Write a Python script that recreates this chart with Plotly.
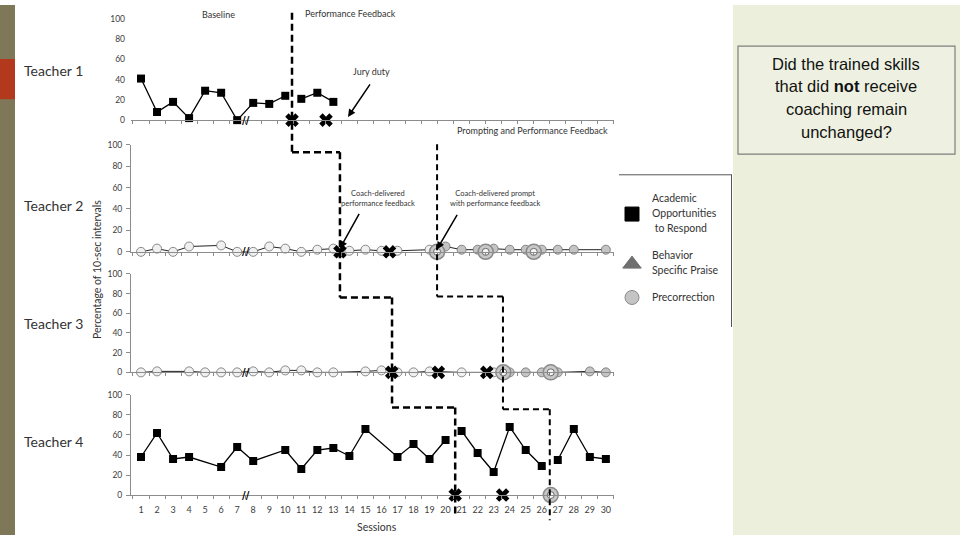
import plotly.graph_objects as go

W, H = 960, 540

# ---------------- data ----------------
session_ticks = list(range(1, 31))
session_labels = [str(s) for s in session_ticks]
y_ticks = [0, 20, 40, 60, 80, 100]
y_labels = [str(v) for v in y_ticks]

teacher_names = ["Teacher 1", "Teacher 2", "Teacher 3", "Teacher 4"]

# Teacher 1 - academic opportunities to respond
t1_sessions = [1, 2, 3, 4, 5, 6, 7, 8, 9, 10, 11, 12, 13]
t1_otr = [41, 8, 18, 2, 29, 27, 0, 17, 16, 24, 21, 27, 18]
t1_coach = [10.42, 12.54]

# Teacher 2 - precorrection
t2_sessions = [1, 2, 3, 4, 6, 7, 8, 9, 10, 11, 12, 13, 14, 15, 16, 17, 19,
               20, 21, 22, 23, 24, 25, 26, 27, 28, 30]
t2_precorr = [0, 3, 0, 5, 6, 0, 0, 5, 3, 0, 2, 3, 1, 2, 1, 1, 2,
              5, 2, 2, 3, 2, 2, 2, 2, 2, 2]
t2_coach = [13.41, 16.5]
t2_prompt = [19.47, 22.5, 25.5]

# Teacher 3 - precorrection
t3_sessions = [1, 2, 4, 5, 6, 7, 8, 9, 10, 11, 12, 13, 15, 16, 17, 18, 19,
               21, 23, 24, 25, 26, 27, 29, 30]
t3_precorr = [0, 1, 1, 0, 0, 0, 1, 0, 2, 2, 0, 0, 1, 2, 0, 0, 1,
              0, 0, 0, 0, 0, 0, 1, 0]
t3_coach = [16.64, 19.55, 22.57]
t3_prompt = [23.6, 26.56]

# Teacher 4 - academic opportunities to respond
t4_sessions = [1, 2, 3, 4, 6, 7, 8, 10, 11, 12, 13, 14, 15, 17, 18, 19, 20,
               21, 22, 23, 24, 25, 26, 27, 28, 29, 30]
t4_otr = [38, 62, 36, 38, 28, 48, 34, 45, 26, 45, 47, 39, 66, 38, 51, 36, 55,
          64, 42, 23, 68, 45, 29, 35, 66, 38, 36]
t4_coach = [20.6, 23.56]
t4_prompt = [26.56]

# phase change lines (session positions)
phase_a = [10.42, 13.41, 16.66, 20.6]
phase_b = [19.47, 23.58, 26.5]

legend_labels = [["Academic", "Opportunities", " to Respond"],
                 ["Behavior", "Specific Praise"],
                 ["Precorrection"]]

# ---------------- helpers ----------------
def px(p):
    return p / W

def py(p):
    return 1 - p / H

X_RANGE = [0.376, 30.507]
X_DOM = [px(131), px(614)]
PANEL_PX = [(117.3, 14.0), (251.5, 142.3), (374.3, 274.0), (499.3, 397.3)]
AX = ["", "2", "3", "4"]
FONT = "Lato"
AXC = "#8c8c8c"


def seg(xs, ys, breaks):
    ox, oy = [], []
    for i, (x, y) in enumerate(zip(xs, ys)):
        if i > 0 and any(xs[i - 1] < b < x for b in breaks):
            ox.append(None)
            oy.append(None)
        ox.append(x)
        oy.append(y)
    return ox, oy


fig = go.Figure()


def square_series(k, sess, vals, breaks):
    x, y = seg(sess, vals, breaks)
    fig.add_trace(go.Scatter(
        x=x, y=y, xaxis="x" + AX[k], yaxis="y" + AX[k], mode="lines+markers",
        line=dict(color="black", width=1.3),
        marker=dict(symbol="square", size=8, color="black"),
        cliponaxis=False, hoverinfo="skip", showlegend=False))


def circle_series(k, sess, vals, breaks, change):
    x, y = seg(sess, vals, breaks)
    cols = ["#f0f0f0" if (v is None or v < change) else "#c4c4c4" for v in x]
    fig.add_trace(go.Scatter(
        x=x, y=y, xaxis="x" + AX[k], yaxis="y" + AX[k], mode="lines+markers",
        line=dict(color="#222222", width=1),
        marker=dict(symbol="circle", size=9, color=cols,
                    line=dict(color="#6e6e6e", width=0.8)),
        cliponaxis=False, hoverinfo="skip", showlegend=False))


def coach_marks(k, xs):
    fig.add_trace(go.Scatter(
        x=xs, y=[0] * len(xs), xaxis="x" + AX[k], yaxis="y" + AX[k],
        mode="markers", marker=dict(symbol="x", size=12, color="black",
                                     line=dict(width=0)),
        cliponaxis=False, hoverinfo="skip", showlegend=False))


def prompt_marks(k, xs):
    fig.add_trace(go.Scatter(
        x=xs, y=[0] * len(xs), xaxis="x" + AX[k], yaxis="y" + AX[k],
        mode="markers", marker=dict(symbol="circle", size=15, color="#c8c8c8",
                                     line=dict(color="#8a8a8a", width=1.5)),
        cliponaxis=False, hoverinfo="skip", showlegend=False))
    fig.add_trace(go.Scatter(
        x=xs, y=[0] * len(xs), xaxis="x" + AX[k], yaxis="y" + AX[k],
        mode="markers", marker=dict(symbol="circle", size=7, color="#f6f6f6",
                                     line=dict(color="#6a6a6a", width=1)),
        cliponaxis=False, hoverinfo="skip", showlegend=False))


square_series(0, t1_sessions, t1_otr, [phase_a[0]])
coach_marks(0, t1_coach)

circle_series(1, t2_sessions, t2_precorr, [phase_a[1], phase_b[0]], phase_b[0])
coach_marks(1, t2_coach)
prompt_marks(1, t2_prompt)

circle_series(2, t3_sessions, t3_precorr, [phase_a[2], phase_b[1]], phase_b[1])
coach_marks(2, t3_coach)
prompt_marks(2, t3_prompt)

square_series(3, t4_sessions, t4_otr, [phase_a[3], phase_b[2]])
coach_marks(3, t4_coach)
prompt_marks(3, t4_prompt)

# hidden trace for session-label axis
fig.add_trace(go.Scatter(x=[None], y=[None], xaxis="x5", yaxis="y4",
                         showlegend=False, hoverinfo="skip"))

# legend symbols on a pixel overlay axis
leg_sym = [("square", 14, "black", "black", 213),
           ("triangle-up", 16, "#707070", "#707070", 264),
           ("circle", 14, "#c4c4c4", "#8a8a8a", 298)]
for sym, sz, col, lc, yy in leg_sym:
    fig.add_trace(go.Scatter(
        x=[632], y=[yy], xaxis="x6", yaxis="y6", mode="markers",
        marker=dict(symbol=sym, size=sz, color=col, line=dict(color=lc, width=1)),
        showlegend=False, hoverinfo="skip", cliponaxis=False))

# ---------------- axes ----------------
layout = dict(
    width=W, height=H, margin=dict(l=0, r=0, t=0, b=0), autosize=False,
    paper_bgcolor="white", plot_bgcolor="rgba(0,0,0,0)", showlegend=False,
)
for k in range(4):
    y0, y1 = PANEL_PX[k]
    layout["xaxis" + AX[k]] = dict(
        domain=X_DOM, range=X_RANGE, anchor="y" + AX[k],
        showline=True, linecolor=AXC, linewidth=1,
        tickmode="linear", tick0=0.5, dtick=1, ticks="outside", ticklen=3,
        tickcolor=AXC, showticklabels=False, showgrid=False, zeroline=False,
        fixedrange=True)
    layout["yaxis" + AX[k]] = dict(
        domain=[py(y0), py(y1)], range=[0, 100], anchor="x" + AX[k],
        showline=(k > 0), linecolor=AXC, linewidth=1,
        tickmode="array", tickvals=y_ticks, ticktext=y_labels,
        ticks="outside" if k > 0 else "", ticklen=4, tickcolor=AXC,
        ticklabelstandoff=2 if k > 0 else 5,
        tickfont=dict(family=FONT, size=8.5, color="#404040"),
        showgrid=False, zeroline=False, fixedrange=True)

layout["xaxis5"] = dict(
    domain=X_DOM, range=X_RANGE, anchor="y4", overlaying="x4", side="bottom",
    tickmode="array", tickvals=session_ticks, ticktext=session_labels,
    ticks="", showline=False, showgrid=False, zeroline=False,
    ticklabelstandoff=8,
    tickfont=dict(family=FONT, size=9, color="#404040"), fixedrange=True)

layout["xaxis6"] = dict(domain=[0, 1], range=[0, W], anchor="y6", visible=False,
                        fixedrange=True)
layout["yaxis6"] = dict(domain=[0, 1], range=[H, 0], anchor="x6", visible=False,
                        fixedrange=True)

fig.update_layout(**layout)

# ---------------- shapes ----------------
shapes = []
shapes.append(dict(type="rect", xref="paper", yref="paper", x0=px(0), x1=px(15),
                   y0=0, y1=1, fillcolor="#7f7858", line=dict(width=0), layer="below"))
shapes.append(dict(type="rect", xref="paper", yref="paper", x0=px(0), x1=px(15),
                   y0=py(96), y1=py(55), fillcolor="#b3391d", line=dict(width=0),
                   layer="below"))
shapes.append(dict(type="rect", xref="paper", yref="paper", x0=px(733), x1=1,
                   y0=0, y1=1, fillcolor="#ebefdc", line=dict(width=0), layer="below"))
shapes.append(dict(type="rect", xref="paper", yref="paper", x0=px(738), x1=px(955),
                   y0=py(152), y1=py(42), fillcolor="rgba(255,255,255,0.15)",
                   line=dict(color="#7f7f7f", width=1.2), layer="below"))
shapes.append(dict(type="line", xref="paper", yref="paper", x0=px(619), x1=px(732),
                   y0=py(173), y1=py(173), line=dict(color="#555555", width=1)))
shapes.append(dict(type="line", xref="paper", yref="paper", x0=px(731.5), x1=px(731.5),
                   y0=py(173), y1=py(328), line=dict(color="#555555", width=1)))


def dashed_path(xs, ys_px, width, dash):
    out = []
    for i, x in enumerate(xs):
        out.append(dict(type="line", xref="x", yref="paper", x0=x, x1=x,
                        y0=py(ys_px[i]), y1=py(ys_px[i + 1]),
                        line=dict(color="black", width=width, dash=dash)))
        if i + 1 < len(xs):
            out.append(dict(type="line", xref="x", yref="paper", x0=x, x1=xs[i + 1],
                            y0=py(ys_px[i + 1]), y1=py(ys_px[i + 1]),
                            line=dict(color="black", width=width, dash=dash)))
    return out

shapes += dashed_path(phase_a, [8, 150, 298, 410, 518], 2.5, "7px,4px")
shapes += dashed_path(phase_b, [142, 297, 412, 525], 2, "6px,4px")
fig.update_layout(shapes=shapes)

# ---------------- annotations ----------------
ann = []

def txt(text, x, y, size, xanchor="center", color="#333333", family=FONT, **kw):
    ann.append(dict(text=text, x=px(x), y=py(y), xref="paper", yref="paper",
                    showarrow=False, xanchor=xanchor, yanchor="middle",
                    font=dict(family=family, size=size, color=color), **kw))

def arrow(hx, hy, tx, ty):
    ann.append(dict(text="", x=px(hx), y=py(hy), xref="paper", yref="paper",
                    ax=tx - hx, ay=ty - hy, showarrow=True, arrowhead=2,
                    arrowsize=1, arrowwidth=1.5, arrowcolor="black"))

for name, yy in zip(teacher_names, [67, 204, 325, 445]):
    txt(name, 22, yy, 14, xanchor="left")

txt("Baseline", 218, 10, 9)
txt("Performance Feedback", 303, 9, 9, xanchor="left")
txt("Jury duty", 371, 68, 9)
txt("Prompting and Performance Feedback", 610, 128, 9, xanchor="right")
txt("Coach-delivered<br>performance feedback", 378, 197, 7.5)
txt("Coach-delivered prompt<br>with performance feedback", 495, 197, 7.5)
arrow(348, 114, 371, 80)
arrow(340, 248, 360, 212)
arrow(437, 249, 458, 213)

for k in range(4):
    ann.append(dict(text="<b>//</b>", x=7.55, y=0, xref="x" + AX[k], yref="y" + AX[k],
                    showarrow=False, xanchor="center", yanchor="middle",
                    font=dict(family="DejaVu Sans", size=10, color="black")))

txt("Percentage of 10-sec intervals", 97, 270, 10.5, textangle=-90)
txt("Sessions", 377, 532, 10.5)

for lines, ys in zip(legend_labels, [[197, 212, 227], [255, 270], [298]]):
    for t, yy in zip(lines, ys):
        txt(t.replace(" ", "&nbsp;", 1) if t.startswith(" ") else t, 650, yy, 10.5,
            xanchor="left")

q_lines = ["Did the trained skills", "that did <b>not</b> receive",
           "coaching remain", "unchanged?"]
for t, yy in zip(q_lines, [60, 83, 106, 129]):
    txt(t, 846, yy, 16.5, color="#111111", family="Liberation Sans")

fig.update_layout(annotations=ann)

POST = (
    "var de=document.documentElement,b=document.body;"
    "de.style.margin='0';de.style.padding='0';de.style.overflow='hidden';"
    "b.style.margin='0';b.style.padding='0';b.style.overflow='hidden';"
    "var gd=document.getElementById('{plot_id}');"
    "gd.style.position='absolute';gd.style.left='0px';gd.style.top='0px';"
)

fig.write_html(
    "out.html",
    config={"responsive": False, "displayModeBar": False},
    post_script=POST,
)
